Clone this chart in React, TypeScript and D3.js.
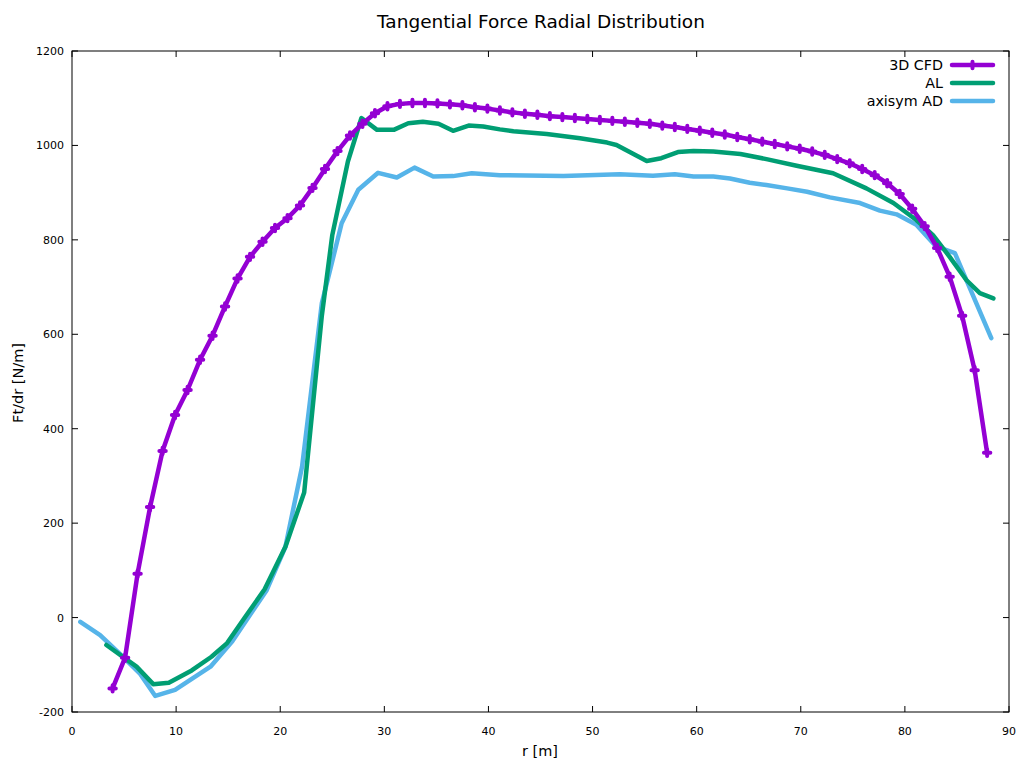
import React from "react";
import * as d3 from "d3";

const cfdR = [3.9, 5.1, 6.3, 7.5, 8.7, 9.9, 11.1, 12.3, 13.5, 14.7, 15.9, 17.1, 18.3, 19.5, 20.7, 21.9, 23.1, 24.3, 25.5, 26.7, 27.9, 29.1, 30.3, 31.5, 32.7, 33.9, 35.1, 36.3, 37.5, 38.7, 39.9, 41.1, 42.3, 43.5, 44.7, 45.9, 47.1, 48.3, 49.5, 50.7, 51.9, 53.1, 54.3, 55.5, 56.7, 57.9, 59.1, 60.3, 61.5, 62.7, 63.9, 65.1, 66.3, 67.5, 68.7, 69.9, 71.1, 72.3, 73.5, 74.7, 75.9, 77.1, 78.3, 79.5, 80.7, 81.9, 83.1, 84.3, 85.5, 86.7, 87.9];
const cfdF = [-150, -85, 93, 234, 353, 429, 482, 546, 597, 659, 718, 764, 796, 825, 846, 873, 910, 950, 988, 1021, 1046, 1068, 1083, 1088, 1090, 1090, 1089, 1087, 1085, 1081, 1078, 1074, 1070, 1067, 1065, 1062, 1060, 1058, 1056, 1054, 1052, 1050, 1048, 1046, 1042, 1039, 1035, 1031, 1027, 1023, 1018, 1013, 1008, 1003, 998, 993, 987, 980, 971, 962, 950, 937, 920, 897, 866, 829, 783, 722, 639, 524, 349];

const alR = [3.3, 6.2, 7.8, 9.3, 11.5, 13.4, 14.9, 16.6, 18.5, 20.5, 22.3, 24.0, 25.0, 26.5, 27.8, 29.3, 30.9, 32.3, 33.7, 35.2, 36.6, 38.1, 39.5, 41.1, 42.4, 45.6, 48.8, 51.4, 52.3, 55.2, 56.6, 58.2, 59.7, 61.6, 64.2, 66.7, 69.6, 73.1, 76.3, 78.9, 81.1, 82.7, 84.3, 85.9, 87.2, 88.5];
const alF = [-58, -104, -141, -138, -112, -83, -54, 0, 60, 150, 265, 640, 810, 966, 1058, 1033, 1033, 1047, 1050, 1046, 1031, 1042, 1040, 1034, 1030, 1024, 1015, 1006, 1001, 967, 973, 986, 988, 987, 982, 971, 957, 941, 909, 878, 842, 810, 764, 715, 687, 676];

const adR = [0.8, 2.7, 4.5, 6.5, 8.0, 9.9, 13.3, 15.4, 18.7, 20.5, 22.1, 24.0, 25.9, 27.5, 29.4, 31.2, 32.9, 34.7, 36.6, 38.4, 41.1, 47.2, 52.6, 55.8, 57.9, 59.7, 61.6, 63.2, 65.1, 66.7, 68.7, 70.6, 72.8, 75.7, 77.6, 79.2, 81.1, 83.0, 84.8, 85.9, 88.3];
const adF = [-9, -37, -75, -118, -166, -153, -104, -50, 58, 150, 320, 666, 835, 906, 942, 932, 953, 934, 935, 941, 937, 935, 939, 936, 939, 934, 934, 930, 921, 916, 909, 902, 890, 878, 862, 854, 832, 786, 772, 715, 592];

const xTicks = [0, 10, 20, 30, 40, 50, 60, 70, 80, 90];
const yTicks = [-200, 0, 200, 400, 600, 800, 1000, 1200];

const seriesNames = ["3D CFD", "AL", "axisym AD"];
const seriesColors = ["#9400d3", "#009e73", "#56b4e9"];

const W = 1023, H = 761;
const L = 72, R = 1009, T = 51, B = 712;
const FONT = "'DejaVu Sans', sans-serif";

export default function App() {
  const x = d3.scaleLinear().domain([0, 90]).range([L, R]);
  const y = d3.scaleLinear().domain([-200, 1200]).range([B, T]);
  const line = d3.line<[number, number]>().x(d => x(d[0])).y(d => y(d[1]));
  const cfd = cfdR.map((r, i) => [r, cfdF[i]] as [number, number]);
  const al = alR.map((r, i) => [r, alF[i]] as [number, number]);
  const ad = adR.map((r, i) => [r, adF[i]] as [number, number]);
  const plus = "M-3.2,0H3.2M0,-3.2V3.2";
  const tick = 6;
  const legY = [65, 83, 101];

  return (
    <svg width={W} height={H} style={{ position: "absolute", left: 0, top: 0, background: "#fff" }} fontFamily={FONT}>
      <rect x={0} y={0} width={W} height={H} fill="#fff" />
      <text x={541} y={28} textAnchor="middle" fontSize={18.5} fill="#000">Tangential Force Radial Distribution</text>
      {xTicks.map(t => (
        <g key={"x" + t}>
          <line x1={x(t)} x2={x(t)} y1={B} y2={B - tick} stroke="#000" strokeWidth={1} />
          <line x1={x(t)} x2={x(t)} y1={T} y2={T + tick} stroke="#000" strokeWidth={1} />
          <text x={x(t)} y={735} textAnchor="middle" fontSize={11} fill="#000">{t}</text>
        </g>
      ))}
      {yTicks.map(t => (
        <g key={"y" + t}>
          <line x1={L} x2={L + tick} y1={y(t)} y2={y(t)} stroke="#000" strokeWidth={1} />
          <line x1={R} x2={R - tick} y1={y(t)} y2={y(t)} stroke="#000" strokeWidth={1} />
          <text x={64} y={y(t) + 4} textAnchor="end" fontSize={11} fill="#000">{t}</text>
        </g>
      ))}
      <text x={540} y={756} textAnchor="middle" fontSize={14.5} fill="#000">r [m]</text>
      <text transform={`translate(23,383) rotate(-90)`} textAnchor="middle" fontSize={14.5} fill="#000">Ft/dr [N/m]</text>

      <g fill="none" strokeLinejoin="round" strokeLinecap="round">
        <path d={line(ad) || ""} stroke={seriesColors[2]} strokeWidth={4.5} />
        <path d={line(al) || ""} stroke={seriesColors[1]} strokeWidth={4.5} />
        <path d={line(cfd) || ""} stroke={seriesColors[0]} strokeWidth={4.5} />
      </g>
      {cfd.map((d, i) => (
        <path key={i} d={plus} transform={`translate(${x(d[0])},${y(d[1])})`} stroke={seriesColors[0]} strokeWidth={4} strokeLinecap="round" fill="none" />
      ))}

      <rect x={L} y={T} width={R - L} height={B - T} fill="none" stroke="#000" strokeWidth={1} />

      {seriesNames.map((n, i) => (
        <g key={n}>
          <text x={943} y={legY[i] + 5} textAnchor="end" fontSize={14.3} fill="#000">{n}</text>
          <line x1={952} x2={993} y1={legY[i]} y2={legY[i]} stroke={seriesColors[i]} strokeWidth={4.5} strokeLinecap="round" />
          {i === 0 && <path d={plus} transform={`translate(972.5,${legY[i]})`} stroke={seriesColors[0]} strokeWidth={4} strokeLinecap="round" fill="none" />}
        </g>
      ))}
    </svg>
  );
}
